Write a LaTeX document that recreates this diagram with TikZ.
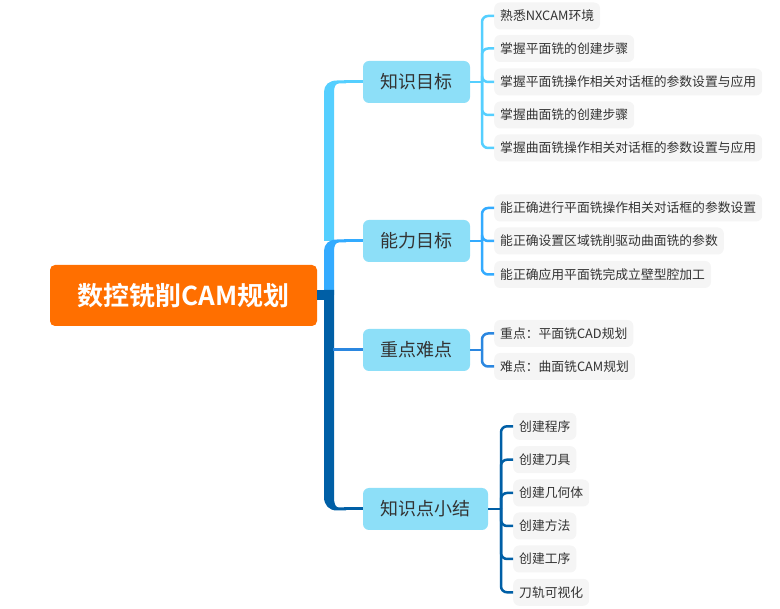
\documentclass[tikz,border=0pt]{standalone}
\usepackage{fontspec}
\setmainfont{Noto Sans CJK SC}[BoldFont={Noto Sans CJK SC Bold}]
\definecolor{cA}{HTML}{55CFFF}
\definecolor{cB}{HTML}{33ABFF}
\definecolor{cC}{HTML}{2B87E0}
\definecolor{cD}{HTML}{005FA6}
\definecolor{orangeC}{HTML}{FF6F00}
\definecolor{nodeC}{HTML}{8DDFF8}
\definecolor{leafC}{HTML}{F5F5F5}
\definecolor{txt}{HTML}{333333}
\begin{document}
\begin{tikzpicture}[x=1pt,y=-1pt]
\useasboundingbox (0,0) rectangle (780,609);
\tikzset{
 rootbox/.style={fill=orangeC, rounded corners=5pt, minimum width=267pt, minimum height=61pt, text=white, font=\fontsize{26}{30}\selectfont\bfseries, inner sep=0pt},
 topic/.style={fill=nodeC, rounded corners=6pt, minimum height=42pt, text=txt, font=\fontsize{18}{22}\selectfont, inner sep=0pt},
 leaf/.style={fill=leafC, rounded corners=6pt, minimum height=27pt, inner xsep=6pt, inner ysep=0pt, text=txt, font=\fontsize{12.8}{15}\selectfont, anchor=west},
 brk/.style={line width=2.5pt, rounded corners=6pt},
 thin/.style={line width=3pt},
}
% nodes
\node[rootbox] (root) at (183.5,295.5) {数控铣削CAM规划};
\node[topic, minimum width=107pt] (t1) at (416.5,82) {知识目标};
\node[topic, minimum width=107pt] (t2) at (416.5,241) {能力目标};
\node[topic, minimum width=107pt] (t3) at (416.5,350) {重点难点};
\node[topic, minimum width=125pt] (t4) at (425.5,509) {知识点小结};

\node[leaf] (a1) at (494,16) {熟悉NXCAM环境};
\node[leaf] (a2) at (494,48.5) {掌握平面铣的创建步骤};
\node[leaf] (a3) at (494,82) {掌握平面铣操作相关对话框的参数设置与应用};
\node[leaf] (a4) at (494,115) {掌握曲面铣的创建步骤};
\node[leaf] (a5) at (494,148) {掌握曲面铣操作相关对话框的参数设置与应用};

\node[leaf] (b1) at (494,208) {能正确进行平面铣操作相关对话框的参数设置};
\node[leaf] (b2) at (494,241) {能正确设置区域铣削驱动曲面铣的参数};
\node[leaf] (b3) at (494,274.5) {能正确应用平面铣完成立壁型腔加工};

\node[leaf] (c1) at (494,333.5) {重点：平面铣CAD规划};
\node[leaf] (c2) at (494,366.5) {难点：曲面铣CAM规划};

\node[leaf] (d1) at (513,426.3) {创建程序};
\node[leaf] (d2) at (513,459.7) {创建刀具};
\node[leaf] (d3) at (513,493) {创建几何体};
\node[leaf] (d4) at (513,526) {创建方法};
\node[leaf] (d5) at (513,559) {创建工序};
\node[leaf] (d6) at (513,592.3) {刀轨可视化};

% trunk
\fill[cA] (324,241) -- (324,92) .. controls (324,85) and (329,80.5) .. (337,80.5) -- (346,80.5) -- (346,83.5) -- (339,83.5) .. controls (336,83.5) and (334,86) .. (334,92) -- (334,241) -- cycle;
\draw[cA, thin] (344,82) -- (t1.west);
\fill[cB] (324,295) -- (324,251) .. controls (324,244) and (329,239.5) .. (337,239.5) -- (346,239.5) -- (346,242.5) -- (339,242.5) .. controls (336,242.5) and (334,245) .. (334,251) -- (334,295) -- cycle;
\draw[cB, thin] (344,241) -- (t2.west);
\fill[cD] (324,290) -- (324,497) .. controls (324,505) and (329,510.5) .. (337,510.5) -- (346,510.5) -- (346,507.5) -- (339,507.5) .. controls (336,507.5) and (334,505) .. (334,497) -- (334,290) -- cycle;
\draw[cD, thin] (344,509) -- (t4.west);
\draw[cD, line width=10pt] (root.east) -- (334,295.5);
\draw[cC, thin] (333,350) -- (t3.west);

% brackets
\coordinate (k1) at (482,82);
\coordinate (k2) at (482,241);
\coordinate (k3) at (482,350);
\coordinate (k4) at (501,509);
\draw[cA, brk] (t1.east) -- (k1);
\foreach \l in {a1,a2,a3,a4,a5} \draw[cA, brk] (k1) |- (\l.west);
\draw[cB, brk] (t2.east) -- (k2);
\foreach \l in {b1,b2,b3} \draw[cB, brk] (k2) |- (\l.west);
\draw[cC, brk] (t3.east) -- (k3);
\foreach \l in {c1,c2} \draw[cC, brk] (k3) |- (\l.west);
\draw[cD, brk] (t4.east) -- (k4);
\foreach \l in {d1,d2,d3,d4,d5,d6} \draw[cD, brk] (k4) |- (\l.west);
\end{tikzpicture}
\end{document}
